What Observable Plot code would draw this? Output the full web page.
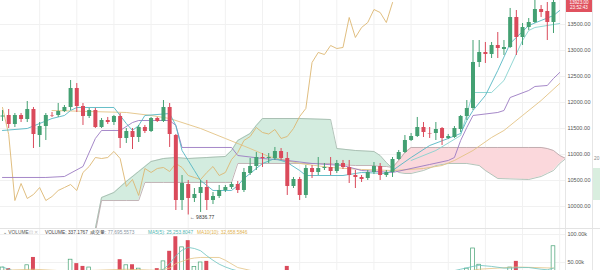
<!DOCTYPE html>
<html><head><meta charset="utf-8">
<script src="https://cdn.jsdelivr.net/npm/d3@7"></script>
<script src="https://cdn.jsdelivr.net/npm/@observablehq/plot@0.6"></script>
<style>
html,body{margin:0;padding:0;background:#fff;}
#wrap{position:relative;width:600px;height:270px;overflow:hidden;font-family:"Liberation Sans",Arial,sans-serif;background:#fff;}
#price,#vol{position:absolute;left:0;}
#price{top:0}
#vol{top:228px}
.abs{position:absolute;white-space:nowrap;line-height:1;}
.lg{font-size:4.8px;}
</style></head><body>
<div id="wrap">
 <div id="price"></div>
 <div id="vol"></div>
 <div class="abs" style="left:565px;top:0;width:1px;height:270px;background:#e6e6e6"></div>
 <div class="abs" style="left:592px;top:0;width:1px;height:270px;background:#e6e6e6"></div>
 <div class="abs" style="left:0;top:228px;width:600px;height:1px;background:#e3e3e3"></div>
 <div class="abs" style="left:566px;top:0;width:26px;height:12px;background:#e0525f;color:#fff;font-size:4.6px;text-align:center">
   <div style="position:absolute;left:0;width:26px;top:0.8px">13923.00</div>
   <div style="position:absolute;left:0;width:26px;top:6.3px">23:52:43</div>
 </div>
 <div class="abs" style="left:593px;top:168px;width:7px;height:32px;background:#d9eedf"></div>
 <div class="abs lg" style="left:594px;top:157px;color:#888">20</div>
 <div class="abs lg" style="left:3px;top:231px;color:#555">⌄ VOLUME</div>
 <div class="abs lg" style="left:29px;top:231px;color:#c4c4c4">⊡ ✕</div>
 <div class="abs lg" style="left:45px;top:231px;color:#444">VOLUME: 337.1767</div>
 <div class="abs lg" style="left:90px;top:231px;color:#444">成交量: <span style="color:#8a96a3">77,695.5573</span></div>
 <div class="abs lg" style="left:148px;top:231px;color:#52b8b2">MA5(5): 25,253.8047</div>
 <div class="abs lg" style="left:197px;top:231px;color:#dfb24e">MA10(10): 32,658.5846</div>
</div>
<script>
// ---- candles (bar index 0..89) ----
const open = [11721,11750,11577,11750,11673,11865,11365,11538,11740,11750,
11827,11904,12269,11923,11731,11846,11519,11654,11615,11731,
11308,11442,11327,11519,11442,11692,11635,11904,11365,10115,
10423,10154,10250,10365,10115,10192,10308,10365,10423,10308,
10635,10769,10942,10923,10923,11058,10923,10385,10519,10212,
10731,10654,10731,10750,10673,10827,10750,10596,10558,10538,
10654,10769,10596,10654,10904,11038,11269,11346,11519,11404,
11404,11500,11308,11327,11481,11731,11885,12769,12962,12923,
13096,13019,13058,13635,13250,13442,13538,13788,13750,13538];
const high = [11846,11865,11788,11788,12019,11904,11615,11788,11808,11981,
11942,12423,12365,11981,11885,11885,11692,11712,11750,11788,
11500,11500,11558,11558,11712,11712,12038,11981,11385,10596,
10500,10346,10500,10500,10269,10404,10404,10462,10481,10731,
10923,11038,11019,11019,11135,11115,11038,10558,10558,10788,
10788,10942,10827,10942,10885,10885,10885,10692,10596,10692,
10846,10827,10692,10942,11077,11365,11404,11712,11615,11519,
11615,11519,11385,11538,11750,12038,13192,13192,13154,13154,
13346,13192,13808,13769,13519,13615,13962,13865,13923,14150];
const low = [11635,11500,11519,11615,11615,11115,11135,11269,11712,11712,
11808,11846,11808,11558,11692,11500,11500,11577,11558,11115,
11212,11096,11231,11404,11423,11615,11615,11135,9923,9923,
9836.77,10077,9885,9923,10038,10154,10269,10327,10250,10269,
10596,10692,10750,10827,10885,10885,10212,10346,10115,10154,
10538,10596,10692,10596,10635,10712,10442,10346,10462,10500,
10615,10500,10558,10558,10885,11019,11250,11327,11327,11308,
11269,11173,11288,11308,11423,11654,11846,12673,12750,12846,
12846,12904,13038,12904,13096,13385,13519,13635,13192,13327];
const close = [11740,11577,11750,11673,11865,11385,11538,11750,11731,11827,
11904,12269,11923,11731,11846,11519,11654,11615,11731,11308,
11442,11327,11519,11442,11692,11635,11904,11385,10115,10442,
10154,10231,10365,10115,10192,10308,10365,10423,10308,10654,
10769,10942,10923,10942,11058,10923,10385,10519,10212,10731,
10654,10731,10750,10673,10827,10750,10596,10558,10519,10654,
10769,10596,10654,10904,11038,11269,11346,11519,11423,11394,
11481,11308,11346,11500,11731,11885,12769,12962,12923,13096,
13038,13058,13635,13250,13442,13538,13788,13731,13538,13923];
// volume in thousands
const volumeK = [41,39,28,22,45,59,30,28,18,22,
20,55,48,43,41,33,25,18,22,55,
45,46,39,25,30,39,52,70,96,77,
89,42,50,52,30,28,20,18,25,32,
28,26,18,15,22,25,43,24,30,33,
20,18,15,20,22,16,28,22,18,20,
22,25,18,30,26,33,22,30,25,18,
22,30,20,25,34,39,75,46,30,28,
32,25,41,52,28,25,34,25,33,79];

// ---- Ichimoku cloud (leading spans) ----
const cloudIdx = [15,16,18,20,22,23,24,26,28,30,33,36,37,38,40,41,42,48,53,54,57,60,61,62,63,64,65,66,68,70,72,75,77,78,80,85,87,88,89,90,91];
const spanA = [9577,10173,10269,10481,10673,10769,10865,10923,10942,10923,10942,10962,11077,11269,11404,11558,11692,11692,11673,11115,11077,11058,10981,10846,10731,10654,10635,10635,10692,10788,10827,10827,10788,10692,10538,10519,10577,10635,10692,10827,10923];
const spanB = [9500,10115,10115,10115,10115,10462,10462,10462,10462,10462,10462,10462,10462,10827,10827,10827,10827,10827,10827,10808,10788,10788,10769,10769,10750,10885,11038,11135,11135,11135,11135,11135,11135,11135,11135,11135,11135,11115,11077,10981,10923];
const twistIdx = 63;

// ---- indicator lines ----
const baseIdx = [0,7,10,13,15,16,19,21,22,27,28,29,37,38,42,46,50,55,58,63,69,72,73,74,75,76,80,81,82,85,86,88,89,90];
const baseVal = [10558,10558,10577,10769,11308,11462,11462,11615,11654,11654,11558,11135,11135,10981,10923,10885,10827,10788,10692,10654,10808,10885,10942,11269,11519,11750,11808,11846,12096,12231,12308,12327,12462,12577];
const convIdx = [0,4,8,10,11,12,18,20,21,22,23,27,28,29,30,31,32,34,37,38,39,40,42,44,46,48,49,55,58,62,63,66,69,72,74,75,76,78,80,82,85,87,89,90];
const convVal = [11462,11500,11692,11750,11846,11904,11904,11596,11462,11558,11750,11788,11558,11077,10885,10692,10500,10308,10308,10404,10538,10635,10827,10923,10846,10692,10596,10596,10654,10635,10692,10942,11173,11308,11404,11654,11846,12135,12615,13135,13481,13577,13673,13769];
const conv2Idx = [66,70,74,76,79,81,84,85,86,90];
const conv2Val = [10885,11077,11365,12192,12192,12423,13192,13385,13442,13519];
const maIdx = [8,20,24,27,32,36,40,43,48,53,58,63,68,71,73,76,79,81,84,87,90];
const maVal = [11846,11808,11750,11692,11500,11308,11115,10962,10827,10750,10712,10692,10731,10788,10885,11077,11327,11462,11750,12038,12365];
const lagShift = 26;

// ---- volume moving averages (thousands) ----
const volMa5Idx = [0,1,2,4,6,10,15,20,24,26,27,28,29,30,31,32,33,34,35,36,37,38,40,50,60,70,72,74,76,77,79,81,82,84,85,87,88,89];
const volMa5 = [42,38,34,30,28,28,30,32,30,38,48,62,72,77,75,71,62,54,47,42,38,35,30,24,24,28,33,38,43,45,43,40,40,41,41,38,37,40];
const volMa10Idx = [0,5,10,15,20,25,27,28,29,30,31,32,35,36,38,40,42,50,60,70,75,77,80,83,86,89];
const volMa10 = [36,38,35,36,38,36,40,48,52,56,58,59,59,54,41,36,32,25,24,25,34,38,40,42,41,40];

const priceTicks = [10000,10500,11000,11500,12000,12500,13000,13500];
const volTicks = [50000,100000];
const gridBars = [6,12,18,24,30,36,42,48,54,60,66,72,78,84,90];
const lowMark = {i: 30, p: 9836.77};

const UP = "#43a072", DN = "#da4a5b";
const bars = open.map((o, i) => ({i, o, h: high[i], l: low[i], c: close[i], v: volumeK[i] * 1000}));
const ups = bars.filter(d => d.c >= d.o), dns = bars.filter(d => d.c < d.o);
const cloud = cloudIdx.map((i, k) => ({i, a: spanA[k], b: spanB[k]}));
const pts = (ix, vs, m = 1) => ix.map((i, k) => ({i, v: vs[k] * m}));
const lag = close.slice(lagShift).map((v, i) => ({i, v}));

const xDomain = [-0.323, 90.94];
const font = "'Liberation Sans', Arial, sans-serif";

const price = Plot.plot({
  width: 600, height: 228, marginLeft: 0, marginRight: 35, marginTop: 0, marginBottom: 0,
  x: {domain: xDomain, axis: null},
  y: {domain: [9576.9, 13961.5], axis: "right", ticks: priceTicks, tickFormat: d => d.toFixed(2), tickSize: 0, tickPadding: 2, label: null},
  style: {background: "transparent", fontFamily: font, fontSize: "5.5px", color: "#555", overflow: "visible"},
  marks: [
    Plot.ruleY(priceTicks, {stroke: "#f1f1f1"}),
    Plot.ruleX(gridBars, {stroke: "#f1f1f1"}),
    Plot.areaY(cloud.filter(d => d.i <= twistIdx), {x: "i", y1: "a", y2: "b", fill: "#d3ecdf", clip: true}),
    Plot.areaY(cloud.filter(d => d.i >= twistIdx), {x: "i", y1: "a", y2: "b", fill: "#fbd8dc", clip: true}),
    Plot.line(cloud, {x: "i", y: "a", stroke: "#9fb5a8", strokeWidth: 0.8, clip: true}),
    Plot.line(cloud, {x: "i", y: "b", stroke: "#b3a2a5", strokeWidth: 0.8, clip: true}),
    Plot.line(pts(maIdx, maVal), {x: "i", y: "v", stroke: "#e3c384", strokeWidth: 0.9, clip: true}),
    Plot.line(lag, {x: "i", y: "v", stroke: "#dcb772", strokeWidth: 0.9, clip: true}),
    Plot.line(pts(baseIdx, baseVal), {x: "i", y: "v", stroke: "#9b7ac2", strokeWidth: 0.9, clip: true}),
    Plot.line(pts(conv2Idx, conv2Val), {x: "i", y: "v", stroke: "#86d2cf", strokeWidth: 0.9, clip: true}),
    Plot.line(pts(convIdx, convVal), {x: "i", y: "v", stroke: "#55b7c3", strokeWidth: 0.9, clip: true}),
    Plot.ruleX(ups, {x: "i", y1: "l", y2: "h", stroke: UP, strokeWidth: 1, clip: true}),
    Plot.ruleX(dns, {x: "i", y1: "l", y2: "h", stroke: DN, strokeWidth: 1, clip: true}),
    Plot.ruleX(ups, {x: "i", y1: "o", y2: "c", stroke: UP, strokeWidth: 4, clip: true}),
    Plot.ruleX(dns, {x: "i", y1: "o", y2: "c", stroke: DN, strokeWidth: 4, clip: true}),
    Plot.text([lowMark], {x: "i", y: "p", text: d => "← " + d.p.toFixed(2), textAnchor: "start", dx: 1.5, dy: 2, fontSize: 5, fill: "#333"})
  ]
});
document.getElementById("price").appendChild(price);

const vol = Plot.plot({
  width: 600, height: 42, marginLeft: 0, marginRight: 35, marginTop: 0, marginBottom: 0,
  x: {domain: xDomain, axis: null},
  y: {domain: [35714, 110714], axis: "right", ticks: volTicks, tickFormat: d => (d / 1000).toFixed(2) + "k", tickSize: 0, tickPadding: 2, label: null},
  style: {background: "transparent", fontFamily: font, fontSize: "5.5px", color: "#555", overflow: "visible"},
  marks: [
    Plot.ruleY(volTicks, {stroke: "#f1f1f1"}),
    Plot.ruleX(gridBars, {stroke: "#f1f1f1"}),
    Plot.rect(dns, {x1: d => d.i - 0.32, x2: d => d.i + 0.32, y1: 0, y2: "v", fill: DN, clip: true}),
    Plot.rect(ups, {x1: d => d.i - 0.3, x2: d => d.i + 0.3, y1: 0, y2: "v", fill: "#fff", stroke: UP, strokeWidth: 0.7, clip: true}),
    Plot.line(pts(volMa10Idx, volMa10, 1000), {x: "i", y: "v", stroke: "#e3c384", strokeWidth: 0.8, clip: true}),
    Plot.line(pts(volMa5Idx, volMa5, 1000), {x: "i", y: "v", stroke: "#6cc3bf", strokeWidth: 0.8, clip: true})
  ]
});
document.getElementById("vol").appendChild(vol);
</script>
</body></html>
